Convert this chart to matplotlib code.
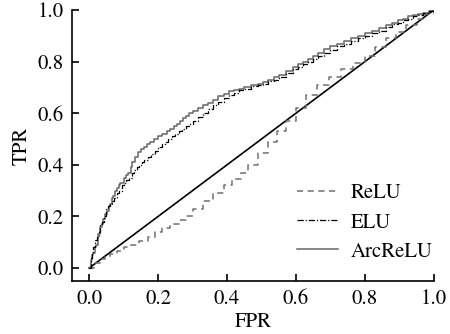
import matplotlib
matplotlib.use('Agg')
import matplotlib.pyplot as plt

# ROC curves (FPR, TPR step points).
RELU_FPR = [0.0, 0.015, 0.03, 0.045, 0.06, 0.08, 0.10, 0.12, 0.145, 0.17, 0.19, 0.21, 0.235,
            0.26, 0.28, 0.30, 0.33, 0.36, 0.39, 0.415, 0.44, 0.46, 0.49, 0.52, 0.545, 0.57,
            0.60, 0.63, 0.66, 0.695, 0.73, 0.765, 0.80, 0.83, 0.86, 0.89, 0.92, 0.95, 0.975, 1.0]
RELU_TPR = [0.0, 0.02, 0.035, 0.045, 0.055, 0.065, 0.08, 0.09, 0.105, 0.12, 0.14, 0.155, 0.17,
            0.185, 0.20, 0.23, 0.26, 0.29, 0.32, 0.345, 0.37, 0.40, 0.445, 0.49, 0.53, 0.57,
            0.62, 0.67, 0.71, 0.74, 0.77, 0.795, 0.82, 0.855, 0.89, 0.915, 0.94, 0.965, 0.985, 1.0]

ELU_FPR = [0.0, 0.004, 0.008, 0.012, 0.018, 0.022, 0.027, 0.032, 0.037, 0.043, 0.05, 0.055,
           0.06, 0.066, 0.072, 0.08, 0.087, 0.094, 0.10, 0.108, 0.115, 0.123, 0.13, 0.138,
           0.145, 0.153, 0.16, 0.17, 0.18, 0.19, 0.20, 0.21, 0.22, 0.23, 0.24, 0.25, 0.26,
           0.27, 0.28, 0.29, 0.30, 0.315, 0.33, 0.345, 0.36, 0.375, 0.39, 0.405, 0.42, 0.435,
           0.45, 0.47, 0.49, 0.505, 0.52, 0.535, 0.55, 0.57, 0.59, 0.605, 0.62, 0.635, 0.65,
           0.665, 0.68, 0.70, 0.72, 0.74, 0.76, 0.78, 0.80, 0.82, 0.84, 0.86, 0.88, 0.895,
           0.91, 0.925, 0.94, 0.955, 0.97, 0.985, 1.0]
ELU_TPR = [0.0, 0.04, 0.06, 0.08, 0.11, 0.12, 0.14, 0.17, 0.18, 0.20, 0.23, 0.24,
           0.25, 0.26, 0.27, 0.29, 0.30, 0.32, 0.33, 0.34, 0.35, 0.37, 0.38, 0.39,
           0.40, 0.41, 0.42, 0.43, 0.44, 0.455, 0.47, 0.48, 0.49, 0.50, 0.51, 0.52, 0.53,
           0.54, 0.55, 0.56, 0.57, 0.585, 0.60, 0.615, 0.63, 0.645, 0.66, 0.67, 0.68, 0.69,
           0.695, 0.705, 0.71, 0.715, 0.725, 0.73, 0.74, 0.755, 0.77, 0.78, 0.79, 0.80, 0.81,
           0.82, 0.835, 0.845, 0.86, 0.87, 0.88, 0.89, 0.90, 0.91, 0.92, 0.935, 0.945, 0.95,
           0.96, 0.965, 0.975, 0.98, 0.99, 0.995, 1.0]

ARC_FPR = [0.0, 0.005, 0.009, 0.012, 0.016, 0.02, 0.026, 0.032, 0.036, 0.04, 0.046, 0.052,
           0.056, 0.06, 0.065, 0.07, 0.075, 0.08, 0.085, 0.09, 0.10, 0.106, 0.113, 0.12,
           0.125, 0.133, 0.142, 0.15, 0.16, 0.168, 0.177, 0.188, 0.20, 0.21, 0.226, 0.235,
           0.245, 0.255, 0.264, 0.272, 0.28, 0.29, 0.30, 0.315, 0.33, 0.345, 0.36, 0.375,
           0.39, 0.405, 0.42, 0.435, 0.45, 0.47, 0.49, 0.505, 0.52, 0.535, 0.55, 0.57, 0.59,
           0.605, 0.62, 0.635, 0.65, 0.665, 0.68, 0.70, 0.72, 0.74, 0.76, 0.78, 0.80, 0.82,
           0.84, 0.86, 0.88, 0.895, 0.91, 0.925, 0.94, 0.955, 0.97, 0.985, 1.0]
ARC_TPR = [0.0, 0.03, 0.05, 0.06, 0.08, 0.09, 0.13, 0.16, 0.17, 0.19, 0.21, 0.22,
           0.24, 0.25, 0.27, 0.28, 0.30, 0.31, 0.32, 0.33, 0.35, 0.36, 0.37, 0.39,
           0.41, 0.43, 0.45, 0.46, 0.47, 0.48, 0.49, 0.50, 0.51, 0.52, 0.53, 0.54,
           0.55, 0.56, 0.57, 0.58, 0.59, 0.60, 0.61, 0.62, 0.63, 0.64, 0.65, 0.665,
           0.675, 0.685, 0.69, 0.695, 0.70, 0.71, 0.715, 0.72, 0.73, 0.74, 0.75, 0.765, 0.78,
           0.79, 0.80, 0.81, 0.82, 0.835, 0.85, 0.86, 0.87, 0.88, 0.89, 0.90, 0.91, 0.92,
           0.93, 0.94, 0.95, 0.96, 0.965, 0.975, 0.98, 0.985, 0.99, 0.995, 1.0]

CHANCE = [0.0, 1.0]

plt.rcParams['font.family'] = ['TeX Gyre Termes', 'Liberation Serif', 'STIXGeneral']
plt.rcParams['font.size'] = 15

fig = plt.figure(figsize=(4.5, 3.34), dpi=100)
ax = fig.add_axes([0.16, 0.159, 0.804, 0.811])

ax.plot(CHANCE, CHANCE, color='black', lw=1.2, zorder=2)
ax.plot(RELU_FPR, RELU_TPR, drawstyle='steps-post', color='#707070', lw=1.1,
        ls=(0, (4, 3)), label='ReLU', zorder=3)
ax.plot(ELU_FPR, ELU_TPR, drawstyle='steps-post', color='black', lw=0.9,
        ls=(0, (5, 1.5, 1, 1.5)), label='ELU', zorder=4)
ax.plot(ARC_FPR, ARC_TPR, drawstyle='steps-post', color='#666666', lw=1.1,
        label='ArcReLU', zorder=3)

ax.set_xlim(-0.05, 1.0)
ax.set_ylim(-0.05, 1.0)
ax.set_xticks([0.0, 0.2, 0.4, 0.6, 0.8, 1.0])
ax.set_yticks([0.0, 0.2, 0.4, 0.6, 0.8, 1.0])
ax.set_xticklabels(['0.0', '0.2', '0.4', '0.6', '0.8', '1.0'])
ax.set_yticklabels(['0.0', '0.2', '0.4', '0.6', '0.8', '1.0'])
ax.spines['top'].set_visible(False)
ax.spines['right'].set_visible(False)
for side in ('left', 'bottom'):
    ax.spines[side].set_linewidth(1.2)
ax.tick_params(direction='in', length=5, width=1.2, pad=6)
ax.set_xlabel('FPR', labelpad=2)
ax.set_ylabel('TPR', labelpad=4)

ax.legend(loc='lower right', bbox_to_anchor=(1.02, 0.04), frameon=False,
          handlelength=2.0, handletextpad=0.6, labelspacing=0.45, borderaxespad=0)

fig.savefig('out.png', dpi=100)
